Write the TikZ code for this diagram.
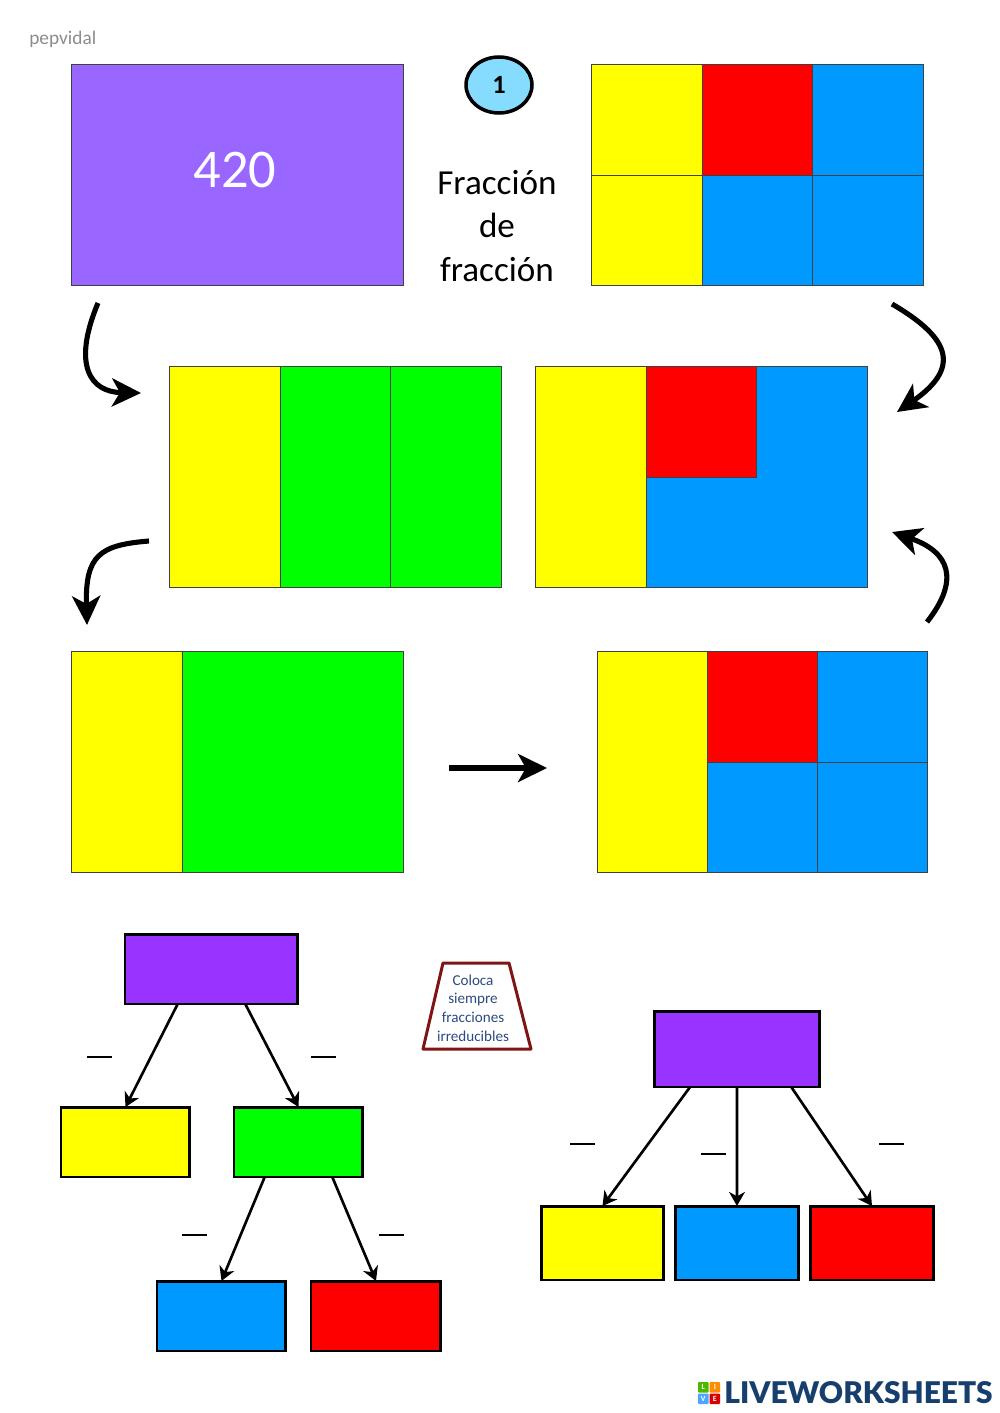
\documentclass[tikz,border=0pt]{standalone}
\usepackage{fontspec}
\setmainfont{Carlito}
\newfontfamily\logofont[UprightFont=* Black]{Lato}
\usetikzlibrary{arrows.meta,positioning,shapes.geometric}
\definecolor{violetbox}{HTML}{9966FF}
\definecolor{violettree}{HTML}{9933FF}
\definecolor{bluebox}{HTML}{0099FF}
\definecolor{greenbox}{HTML}{00FF00}
\definecolor{yellowbox}{HTML}{FFFF00}
\definecolor{circlefill}{HTML}{85DCFF}
\definecolor{trapred}{HTML}{7F1414}
\definecolor{trapblue}{HTML}{2B4A80}
\definecolor{logoblue}{HTML}{163F6E}

\begin{document}
\begin{tikzpicture}[x=0.02cm,y=-0.02cm,>=latex,
      cell/.style={draw=black!75,line width=0.4pt,inner sep=0pt,outer sep=0pt,
        minimum width=2.21cm,minimum height=2.21cm},
      tall/.style={cell,minimum height=4.42cm},
      wide/.style={cell,minimum width=4.43cm,minimum height=4.42cm},
      leaf/.style={draw=black,line width=1.7pt,inner sep=0pt,outer sep=0pt,
        minimum width=#1,minimum height=1.4cm},
      conn/.style={->,line width=1.5pt,>={Stealth[length=8pt,width=9pt,inset=2.5pt]}},
      bigarrow/.style={->,line width=2.9pt,>={Stealth[length=16.5pt,width=16pt,inset=4.5pt]}}]
  \useasboundingbox (0,0) rectangle (1000,1413);

  % top row
  \node[cell,fill=violetbox,minimum width=6.64cm,minimum height=4.42cm,anchor=north west] (start) at (71.8,64.8) {};
  \node[text=white,font=\fontsize{31}{31}\selectfont,inner sep=0pt] (amount) at (235,170) {420};
  \node[text=black!45,font=\fontsize{11}{11}\selectfont,anchor=west,inner sep=0pt] (author) at (29,39) {pepvidal};
  \node[ellipse,draw=black,line width=2pt,fill=circlefill,minimum width=1.32cm,minimum height=1.12cm,
    inner sep=0pt,font=\bfseries\fontsize{15}{15}\selectfont] (number) at (499,85) {1};
  \node[align=center,font=\fontsize{20}{25}\selectfont,inner sep=0pt] (title) at (497,226) {Fracción\\de\\fracción};

  \node[cell,fill=yellowbox,anchor=north west] (t1) at (591.8,64.8) {};
  \node[cell,fill=red,right=0pt of t1] (t2) {};
  \node[cell,fill=bluebox,right=0pt of t2] (t3) {};
  \node[cell,fill=yellowbox,below=0pt of t1] (t4) {};
  \node[cell,fill=bluebox,right=0pt of t4] (t5) {};
  \node[cell,fill=bluebox,right=0pt of t5] (t6) {};

  % second row
  \node[tall,fill=yellowbox,anchor=north west] (m1) at (169.8,366.8) {};
  \node[tall,fill=greenbox,right=0pt of m1] (m2) {};
  \node[tall,fill=greenbox,right=0pt of m2] (m3) {};

  \node[tall,fill=yellowbox,anchor=north west] (n1) at (535.8,366.8) {};
  \node[wide,fill=bluebox,right=0pt of n1] (n2) {};
  \node[cell,fill=red,anchor=north west] (n3) at (n2.north west) {};

  % third row
  \node[tall,fill=yellowbox,anchor=north west] (b1) at (71.8,651.8) {};
  \node[wide,fill=greenbox,right=0pt of b1] (b2) {};

  \tikzset{cell/.append style={minimum width=2.2cm}}
  \node[tall,fill=yellowbox,anchor=north west] (c1) at (597.8,651.8) {};
  \node[cell,fill=red,anchor=north west] (c2) at (c1.north east) {};
  \node[cell,fill=bluebox,right=0pt of c2] (c3) {};
  \node[cell,fill=bluebox,below=0pt of c2] (c4) {};
  \node[cell,fill=bluebox,right=0pt of c4] (c5) {};

  % curved arrows
  \coordinate (p1) at (98,303);
  \coordinate (q1) at (141,393);
  \coordinate (p2) at (892,304);
  \coordinate (q2) at (897,412);
  \coordinate (p3) at (149,541);
  \coordinate (q3) at (87,625);
  \coordinate (p4) at (927,622);
  \coordinate (q4) at (892,532);
  \coordinate (p5) at (449,768);
  \coordinate (q5) at (547,768);
  \draw[bigarrow] (p1) .. controls (72,365) and (90,392) .. (q1);
  \draw[bigarrow] (p2) .. controls (945,335) and (965,365) .. (q2);
  \draw[bigarrow] (p3) .. controls (100,545) and (85,555) .. (q3);
  \draw[bigarrow] (p4) .. controls (960,580) and (950,552) .. (q4);
  \draw[bigarrow] (p5) -- (q5);

  % first tree
  \node[leaf=3.46cm,fill=violettree,anchor=north west] (root) at (125,934) {};
  \node[leaf=2.58cm,fill=yellowbox,anchor=north west] (ty) at (61,1107) {};
  \node[leaf=2.58cm,fill=greenbox,anchor=north west] (tg) at (234,1107) {};
  \node[leaf=2.58cm,fill=bluebox,anchor=north west] (tb) at (157,1281) {};
  \node[leaf=2.6cm,fill=red,anchor=north west] (tr) at (311,1281) {};
  \path[conn]
    (root.-134) edge (ty.north)
    (root.-46) edge (tg.north)
    (tg.-134) edge (tb.north)
    (tg.-46) edge (tr.north);

  % second tree
  \node[leaf=3.32cm,minimum height=1.52cm,fill=violettree,anchor=north west] (rootb) at (654,1011) {};
  \node[leaf=2.46cm,minimum height=1.48cm,fill=yellowbox,anchor=north west] (ry) at (541,1206) {};
  \node[leaf=2.48cm,minimum height=1.48cm,fill=bluebox,anchor=north west] (rb) at (675,1206) {};
  \node[leaf=2.48cm,minimum height=1.48cm,fill=red,anchor=north west] (rr) at (810,1206) {};
  \path[conn]
    (rootb.-141) edge (ry.north)
    (rootb.south) edge (rb.north)
    (rootb.-35) edge (rr.north);

  % fraction lines
  \foreach \x/\y in {87/1057,311/1057,182/1235,379/1235,570/1144,701/1154,879/1144}
    \draw[line width=0.9pt] (\x,\y) -- ++(25,0);

  % note
  \coordinate (n1a) at (443,963);
  \coordinate (n1b) at (509,963);
  \coordinate (n1c) at (531,1049);
  \coordinate (n1d) at (423,1049);
  \draw[trapred,line width=1.7pt,line join=round] (n1a) -- (n1b) -- (n1c) -- (n1d) -- cycle;
  \node[align=center,text=trapblue,font=\fontsize{8.6}{10.6}\selectfont,inner sep=0pt] (note) at (473,1008)
    {Coloca\\siempre\\fracciones\\irreducibles};

  % logo
  \tikzset{logosq/.style={minimum size=0.21cm,inner sep=0pt,outer sep=0pt,rounded corners=0.5pt,
      text=white,font=\bfseries\fontsize{4.5}{4.5}\selectfont}}
  \node[logosq,fill=green!60!black!70!yellow,anchor=north west] (l1) at (698,1382) {L};
  \node[logosq,fill=orange!90!yellow,right=0.6pt of l1] (l2) {I};
  \node[logosq,fill=blue!50!cyan!70,below=0.6pt of l1] (l3) {V};
  \node[logosq,fill=red!85!black,right=0.6pt of l3] (l4) {E};
  \node[anchor=west,inner sep=0pt,text=logoblue,font=\logofont\fontsize{17}{17}\selectfont] (logo) at (724,1393) {LIVEWORKSHEETS};
\end{tikzpicture}
\end{document}
